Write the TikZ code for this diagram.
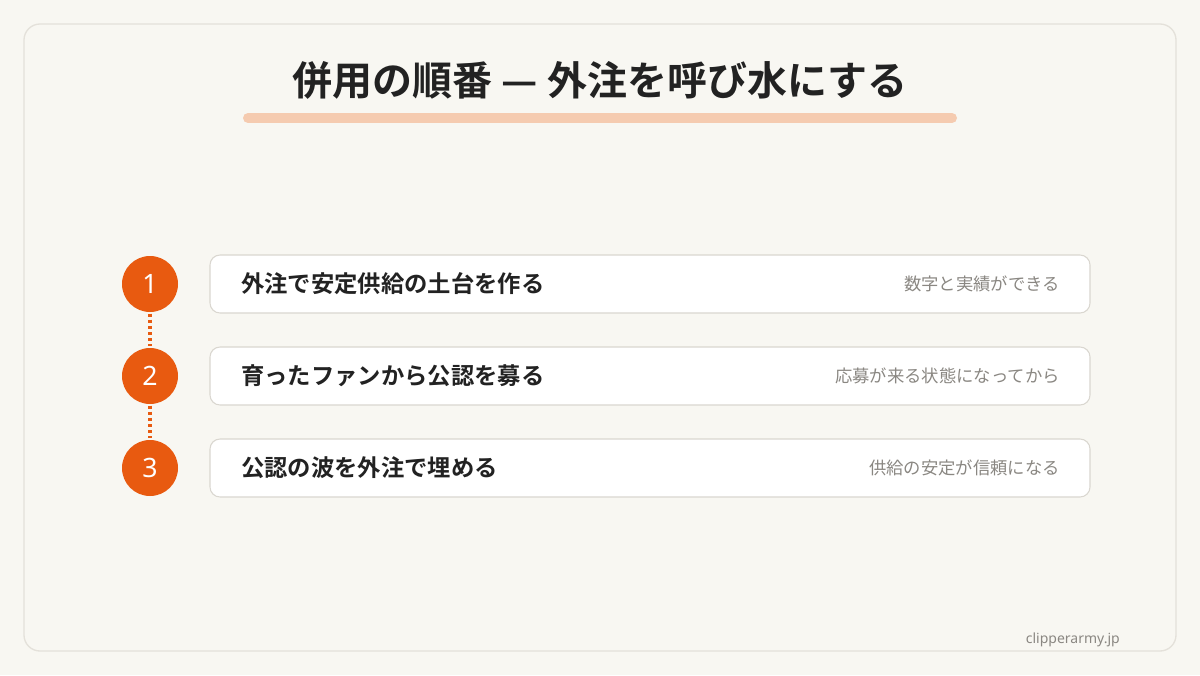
\documentclass[tikz,border=0pt]{standalone}
\usepackage{fontspec}
\setmainfont{Noto Sans CJK JP}
\newfontfamily\jpbold{Noto Sans CJK JP Bold}
\newfontfamily\latin{Noto Sans}
\definecolor{bg}{HTML}{F8F7F2}
\definecolor{frame}{HTML}{E4E1DA}
\definecolor{accent}{HTML}{E85A10}
\definecolor{bar}{HTML}{F5CBB0}
\definecolor{ink}{HTML}{222222}
\definecolor{muted}{HTML}{8A8782}
\definecolor{boxline}{HTML}{DAD7D0}
\begin{document}
\begin{tikzpicture}[x=0.75pt,y=-0.75pt,
  num/.style={circle,fill=accent,minimum size=42pt,inner sep=0pt,text=white,font=\latin\fontsize{20}{20}\selectfont},
  stepbox/.style={draw=boxline,line width=0.8pt,fill=white,rounded corners=7.5pt,minimum width=660pt,minimum height=43.5pt,inner sep=0pt},
  maintext/.style={anchor=west,inner sep=0pt,text=ink,font=\jpbold\fontsize{17.5}{17.5}\selectfont},
  subtext/.style={anchor=east,inner sep=0pt,text=muted,font=\fontsize{13}{13}\selectfont},
  link/.style={accent,line width=2.6pt,dash pattern=on 2.2pt off 2.4pt}]
\fill[bg] (0,0) rectangle (1200,675);
\useasboundingbox (0,0) rectangle (1200,675);
\draw[frame,line width=1pt,rounded corners=12pt] (24,24) rectangle (1176,651);
\node[text=ink,font=\jpbold\fontsize{30}{30}\selectfont] (title) at (600,80) {併用の順番 — 外注を呼び水にする};
\draw[bar,line width=7.5pt,line cap=round] (248,118) -- (952,118);
\foreach \i/\y/\m/\s in {1/284/外注で安定供給の土台を作る/数字と実績ができる,
                          2/376/育ったファンから公認を募る/応募が来る状態になってから,
                          3/468/公認の波を外注で埋める/供給の安定が信頼になる}{
  \node[stepbox] (b\i) at (650,\y) {};
  \node[maintext] (m\i) at (241,\y) {\m};
  \node[subtext] (s\i) at (1060,\y) {\s};
  \node[num] (n\i) at (150,\y) {\i};
}
\draw[link] ([yshift=-1pt]n1.south) -- ([yshift=1pt]n2.north);
\draw[link] ([yshift=-1pt]n2.south) -- ([yshift=1pt]n3.north);
\node[anchor=east,inner sep=0pt,text=muted,font=\latin\fontsize{10.5}{10.5}\selectfont] (foot) at (1120,640) {clipperarmy.jp};
\end{tikzpicture}
\end{document}
